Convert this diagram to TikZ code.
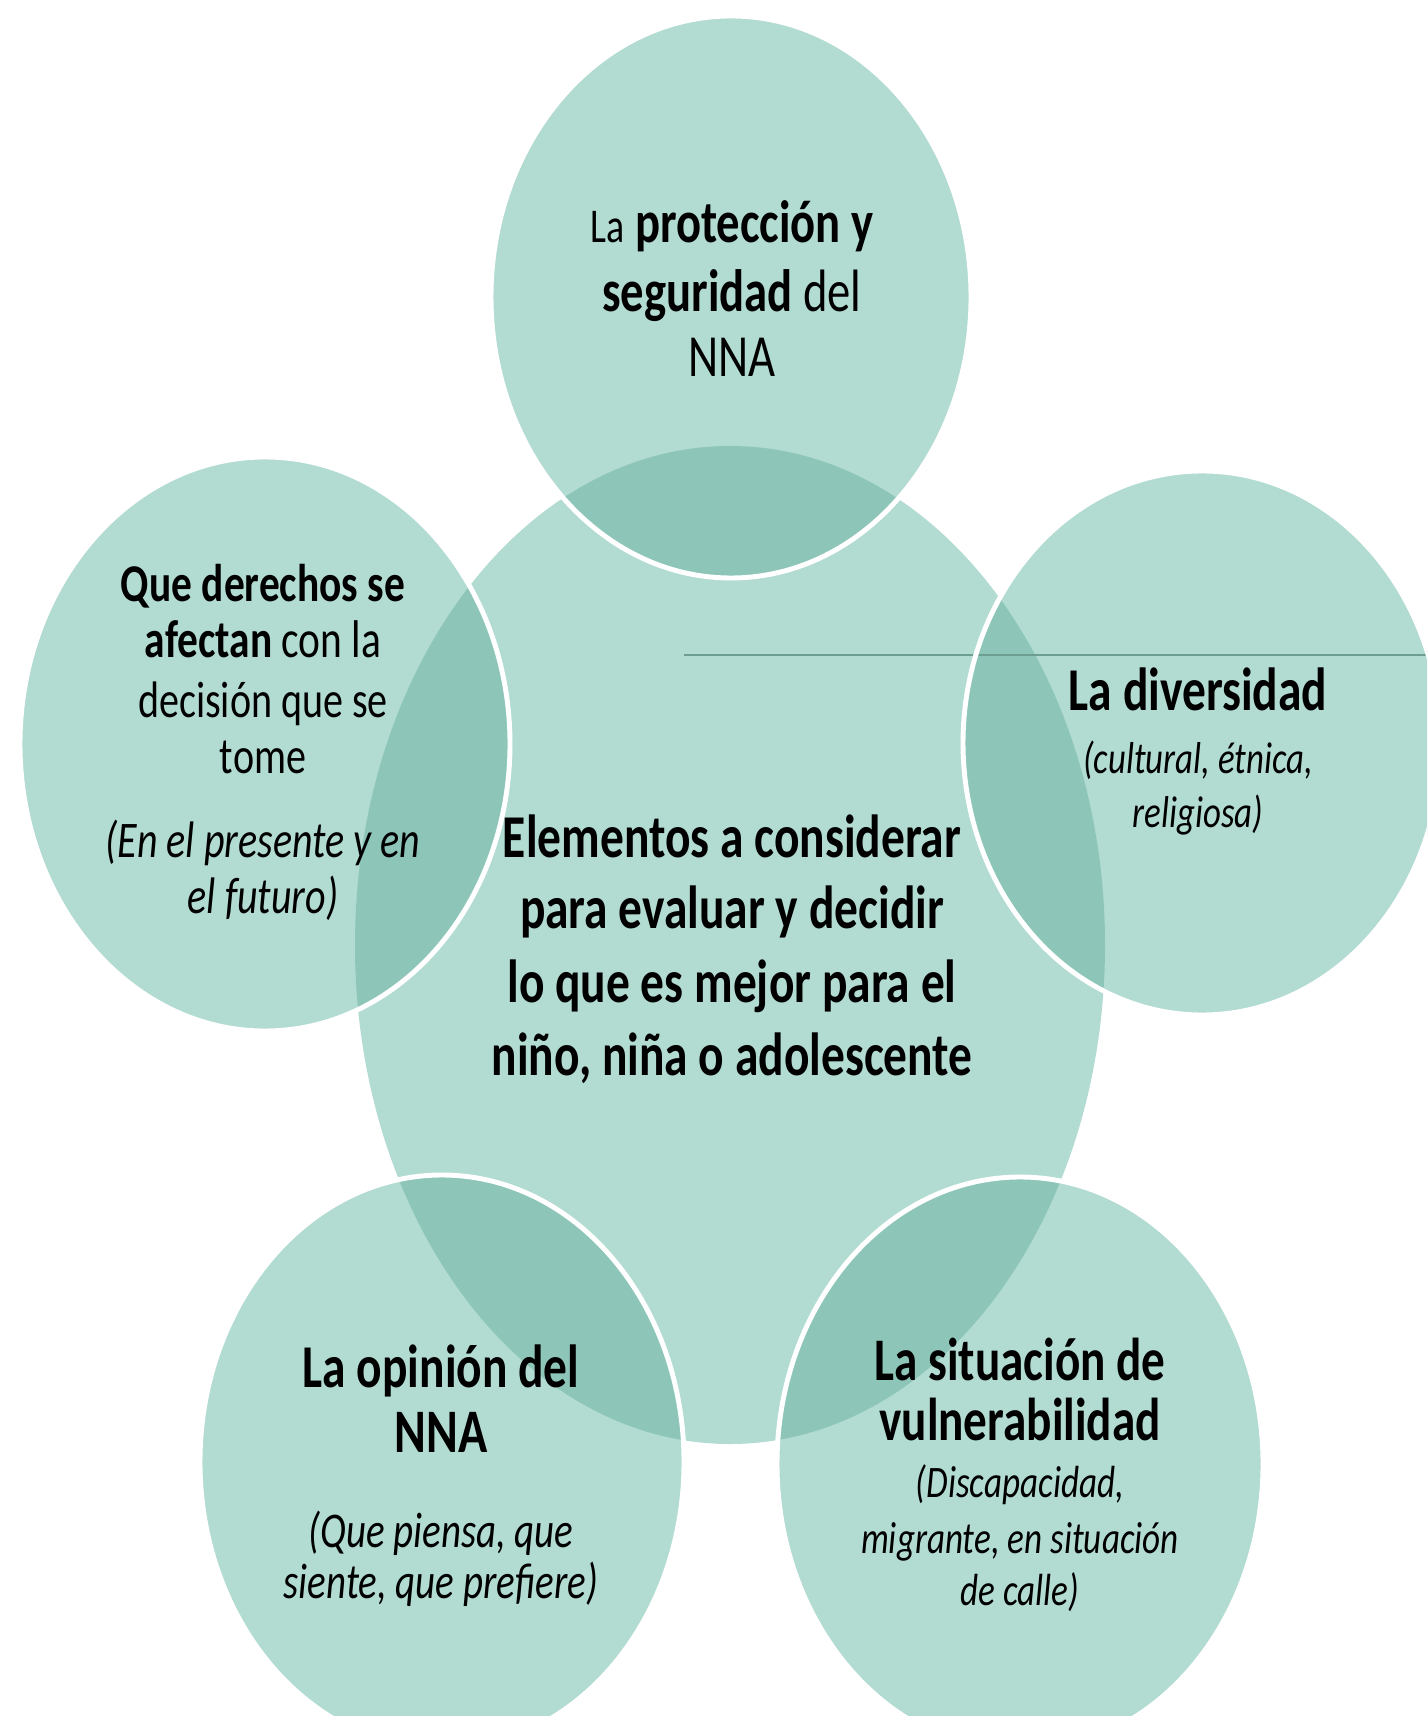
\documentclass[tikz,border=0pt]{standalone}
\usepackage{fontspec}
\setmainfont{Carlito}[FakeStretch=0.78]
\definecolor{tealLight}{HTML}{B2DBD2}
\definecolor{tealDark}{HTML}{8DC6B9}
\definecolor{rule}{HTML}{6E9E90}
\newcommand{\fs}[1]{\fontsize{#1}{#1}\selectfont}
\tikzset{
  sat/.style={fill=tealLight},
  border/.style={draw=white, line width=1.4pt},
  ln/.style={inner sep=0pt, anchor=base},
}
\begin{document}
\begin{tikzpicture}[x=0.01cm, y=-0.01cm]
\clip (0,0) rectangle (1427,1716);
\fill[white] (0,0) rectangle (1427,1716);
\def\mainE{(730,945) ellipse [x radius=375, y radius=499]}
\def\topE{(731,297) ellipse [x radius=240, y radius=281]}
\def\leftE{(265,744) ellipse [x radius=245, y radius=287]}
\def\rightE{(1202,743) ellipse [x radius=239, y radius=272]}
\def\blE{(442,1462) ellipse [x radius=242, y radius=287]}
\def\brE{(1020,1464) ellipse [x radius=243, y radius=287]}
\fill[tealLight] \mainE;
\foreach \e in {\topE,\leftE,\rightE,\blE,\brE}{
  \fill[tealLight] \e;
  \begin{scope}
    \clip \e;
    \fill[tealDark] \mainE;
  \end{scope}
}
% thin rule
\coordinate (ruleA) at (684,655);
\coordinate (ruleB) at (1427,655);
\draw[rule, line width=0.35pt] (ruleA) -- (ruleB);
\foreach \e in {\topE,\leftE,\rightE,\blE,\brE}{
  \draw[border] \e;
}
% centre text
\begin{scope}[every node/.style={ln, font=\fs{17.3}\bfseries}]
\node (c1) at (732,857) {Elementos a considerar};
\node (c2) at (732,928) {para evaluar y decidir};
\node (c3) at (732,1002) {lo que es mejor para el};
\node (c4) at (732,1075) {niño, niña o adolescente};
\end{scope}
% top
\begin{scope}[every node/.style={ln, font=\fs{17.0}}]
\node (t1) at (732,243) {{\fs{13.8}La} \textbf{protección y}};
\node (t2) at (732,312) {\textbf{seguridad} del};
\node (t3) at (732,377) {NNA};
\end{scope}
% left
\begin{scope}[every node/.style={ln, font=\fs{14.6}}]
\node[font=\fs{15.1}] (l1) at (263,602) {\textbf{Que derechos se}};
\node[font=\fs{15.1}] (l2) at (263,658) {\textbf{afectan} con la};
\node (l3) at (263,717) {decisión que se};
\node (l4) at (263,773) {tome};
\node (l5) at (263,857) {\itshape (En el presente y en};
\node (l6) at (263,913) {\itshape el futuro)};
\end{scope}
% right
\begin{scope}[every node/.style={ln, font=\fs{12.7}\itshape}]
\node[font=\fs{17.3}\bfseries] (r1) at (1198,711) {La diversidad};
\node (r2) at (1198,773) {(cultural, étnica,};
\node (r3) at (1198,827) {religiosa)};
\end{scope}
% bottom left
\begin{scope}[every node/.style={ln, font=\fs{14.2}\itshape}]
\node[font=\fs{17.3}\bfseries] (b1) at (441,1387) {La opinión del};
\node[font=\fs{17.6}\bfseries] (b2) at (441,1452) {NNA};
\node (b3) at (441,1547) {(Que piensa, que};
\node (b4) at (441,1598) {siente, que prefiere)};
\end{scope}
% bottom right
\begin{scope}[every node/.style={ln, font=\fs{12.8}\itshape}]
\node[font=\fs{17.2}\bfseries] (d1) at (1020,1380) {La situación de};
\node[font=\fs{17.2}\bfseries] (d2) at (1020,1440) {vulnerabilidad};
\node (d3) at (1020,1497) {(Discapacidad,};
\node (d4) at (1020,1553) {migrante, en situación};
\node (d5) at (1020,1605) {de calle)};
\end{scope}
\end{tikzpicture}
\end{document}
